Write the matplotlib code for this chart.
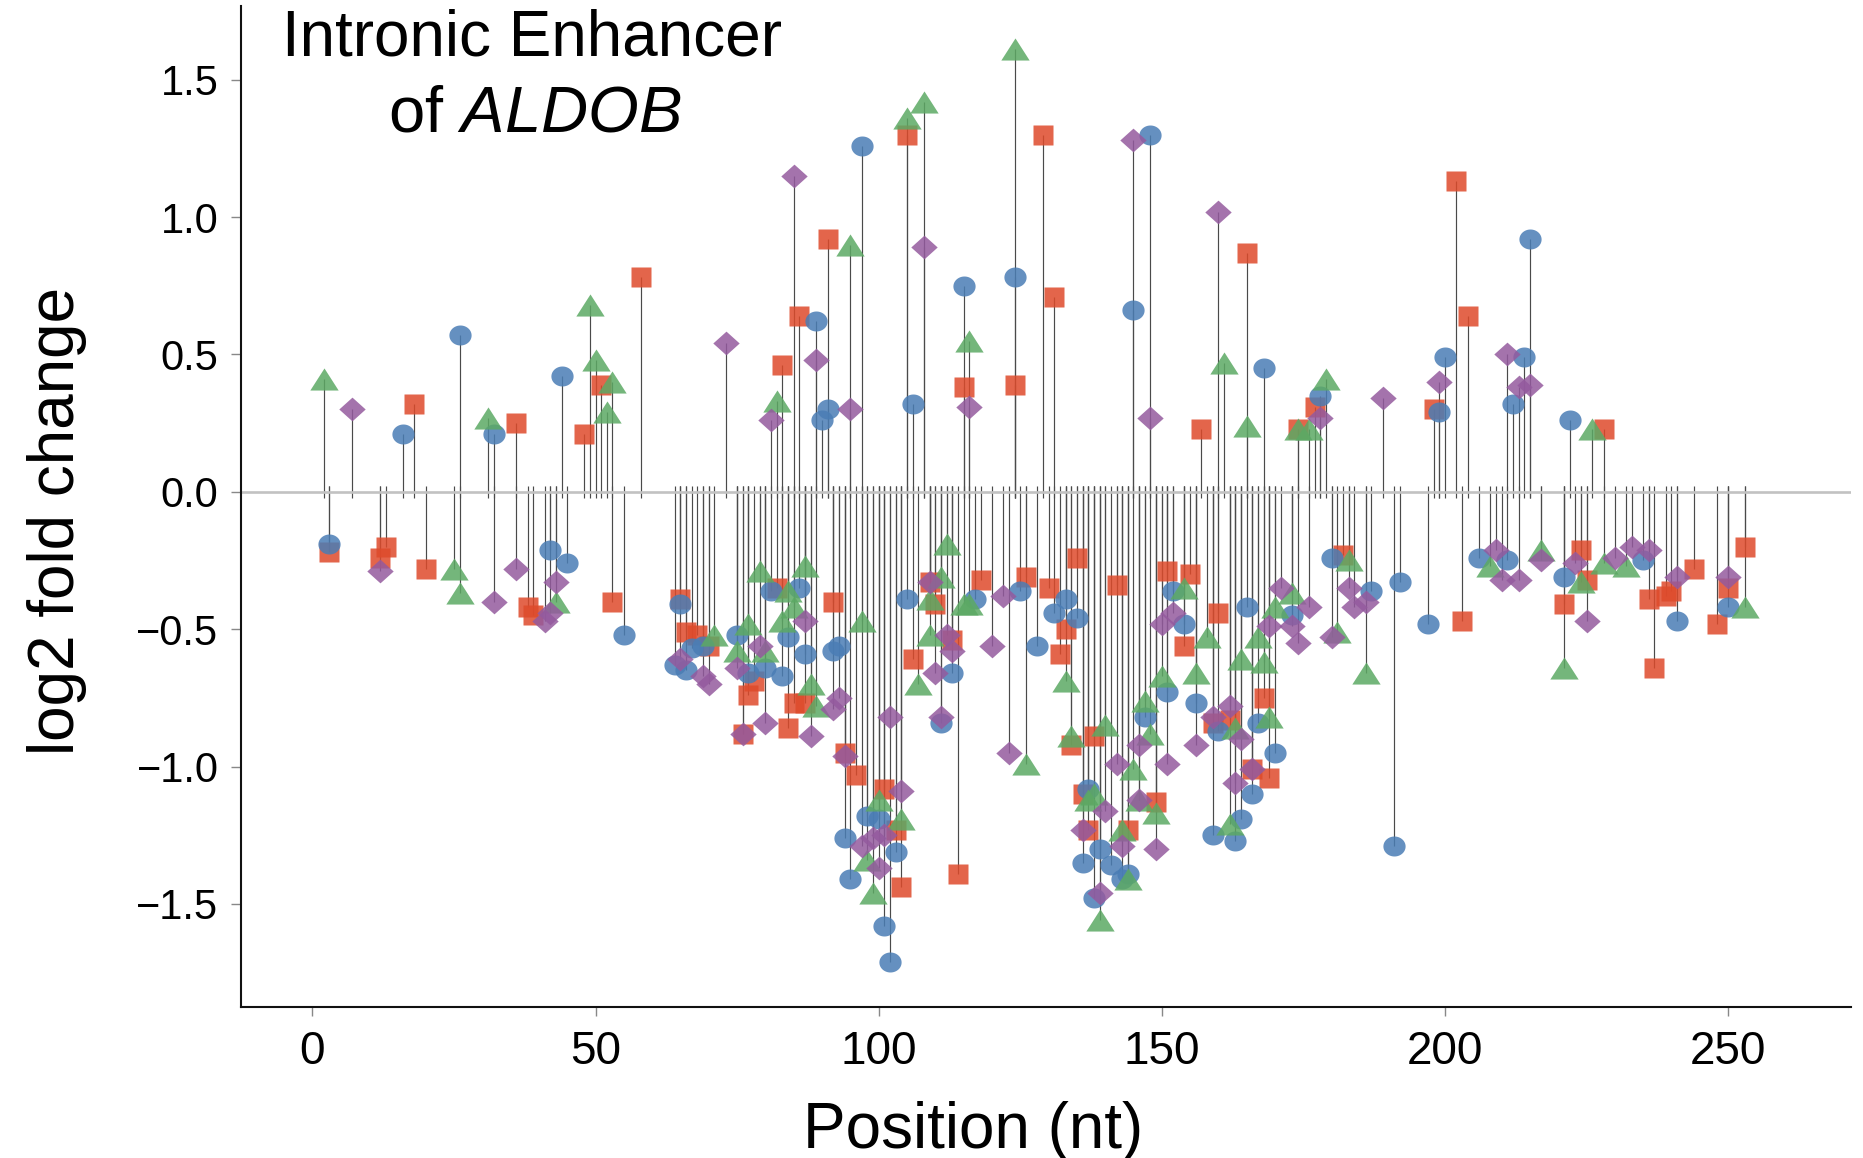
import numpy as np
import matplotlib
matplotlib.use("Agg")
import matplotlib.pyplot as plt

plt.rcParams['font.family'] = ['Liberation Sans', 'DejaVu Sans']
plt.rcParams['mathtext.fontset'] = 'custom'
plt.rcParams['mathtext.rm'] = 'Liberation Sans'
plt.rcParams['mathtext.it'] = 'Liberation Sans:italic'

# ---------------- data (position, log2 fold change) ----------------
circle_x = [16, 26, 32, 44, 89, 90, 91, 97, 106, 115, 124, 145, 148, 168, 178, 199, 200, 212, 214, 215, 222,
            3, 42, 45, 55, 65, 67, 69, 64, 66, 75, 81, 86, 84, 87, 77, 80, 83, 92, 93, 98, 100, 94, 103, 95,
            101, 102, 105, 117, 125, 131, 128, 113, 111, 133, 135, 152, 154, 151, 147, 156, 165, 173, 180, 187,
            192, 197, 191, 167, 160, 170, 166, 164, 159, 163, 137, 139, 136, 141, 144, 143, 138, 206, 211, 221,
            235, 241, 250]
circle_y = [0.21, 0.57, 0.21, 0.42, 0.62, 0.26, 0.30, 1.26, 0.32, 0.75, 0.78, 0.66, 1.30, 0.45, 0.35, 0.29, 0.49,
            0.32, 0.49, 0.92, 0.26,
            -0.19, -0.21, -0.26, -0.52, -0.41, -0.57, -0.56, -0.63, -0.65, -0.52, -0.36, -0.35, -0.53, -0.59,
            -0.66, -0.64, -0.67, -0.58, -0.56, -1.18, -1.19, -1.26, -1.31, -1.41, -1.58, -1.71, -0.39, -0.39,
            -0.36, -0.44, -0.56, -0.66, -0.84, -0.39, -0.46, -0.36, -0.48, -0.73, -0.82, -0.77, -0.42, -0.45,
            -0.24, -0.36, -0.33, -0.48, -1.29, -0.84, -0.87, -0.95, -1.10, -1.19, -1.25, -1.27, -1.08, -1.30,
            -1.35, -1.36, -1.39, -1.41, -1.48, -0.24, -0.25, -0.31, -0.25, -0.47, -0.42]

square_x = [18, 36, 48, 51, 58, 83, 86, 91, 105, 115, 124, 129, 131, 157, 165, 174, 177, 198, 202, 204, 228,
            3, 13, 12, 20, 38, 39, 53, 65, 66, 68, 70, 82, 78, 77, 85, 87, 76, 84, 92, 94, 96, 101, 103, 104,
            114, 109, 110, 118, 126, 130, 106, 113, 135, 133, 132, 134, 138, 142, 151, 155, 154, 160, 136, 137,
            144, 149, 168, 159, 162, 166, 169, 182, 203, 221, 224, 225, 236, 239, 237, 240, 244, 248, 250, 253]
square_y = [0.32, 0.25, 0.21, 0.39, 0.78, 0.46, 0.64, 0.92, 1.30, 0.38, 0.39, 1.30, 0.71, 0.23, 0.87, 0.23, 0.31,
            0.30, 1.13, 0.64, 0.23,
            -0.22, -0.20, -0.24, -0.28, -0.42, -0.45, -0.40, -0.39, -0.51, -0.52, -0.56, -0.35, -0.69, -0.74,
            -0.77, -0.77, -0.88, -0.86, -0.40, -0.95, -1.03, -1.08, -1.23, -1.44, -1.39, -0.33, -0.41, -0.32,
            -0.31, -0.35, -0.61, -0.54, -0.24, -0.50, -0.59, -0.92, -0.89, -0.34, -0.29, -0.30, -0.56, -0.44,
            -1.10, -1.23, -1.23, -1.13, -0.75, -0.84, -0.83, -1.01, -1.04, -0.23, -0.47, -0.41, -0.21, -0.32,
            -0.39, -0.38, -0.64, -0.36, -0.28, -0.48, -0.35, -0.20]

triangle_x = [2, 31, 49, 50, 52, 53, 82, 95, 105, 108, 116, 124, 161, 165, 174, 176, 179, 226,
              25, 26, 43, 71, 77, 79, 84, 87, 85, 83, 75, 80, 88, 89, 97, 100, 104, 98, 99, 112, 111, 109,
              115, 116, 109, 107, 126, 133, 134, 140, 154, 158, 156, 150, 147, 148, 145, 164, 167, 168, 170,
              173, 181, 183, 186, 169, 163, 162, 138, 137, 143, 149, 146, 144, 139, 208, 217, 224, 221, 228,
              232, 253]
triangle_y = [0.41, 0.27, 0.68, 0.48, 0.29, 0.40, 0.33, 0.90, 1.36, 1.42, 0.55, 1.61, 0.47, 0.24, 0.23, 0.23,
              0.41, 0.23,
              -0.28, -0.37, -0.40, -0.52, -0.48, -0.29, -0.36, -0.27, -0.42, -0.47, -0.58, -0.58, -0.70, -0.78,
              -0.47, -1.12, -1.19, -1.34, -1.46, -0.19, -0.31, -0.39, -0.41, -0.41, -0.52, -0.70, -0.99, -0.69,
              -0.89, -0.85, -0.35, -0.53, -0.66, -0.67, -0.76, -0.88, -1.01, -0.61, -0.53, -0.62, -0.42, -0.37,
              -0.51, -0.25, -0.66, -0.82, -0.86, -1.21, -1.10, -1.12, -1.23, -1.17, -1.12, -1.41, -1.56, -0.27,
              -0.21, -0.33, -0.64, -0.26, -0.27, -0.42]

diamond_x = [7, 73, 81, 85, 89, 95, 108, 116, 145, 148, 160, 178, 189, 199, 211, 213, 215,
             12, 32, 36, 41, 42, 43, 65, 69, 70, 87, 75, 79, 80, 76, 88, 92, 93, 94, 104, 97, 99, 101, 100, 102,
             109, 122, 120, 112, 113, 110, 111, 123, 150, 152, 146, 142, 151, 156, 171, 169, 173, 176, 174, 180,
             183, 184, 186, 162, 159, 164, 166, 163, 140, 136, 143, 149, 146, 139, 209, 210, 213, 217, 223, 225,
             230, 233, 236, 241, 250]
diamond_y = [0.30, 0.54, 0.26, 1.15, 0.48, 0.30, 0.89, 0.31, 1.28, 0.27, 1.02, 0.27, 0.34, 0.40, 0.50, 0.38, 0.39,
             -0.29, -0.40, -0.28, -0.47, -0.44, -0.33, -0.61, -0.67, -0.70, -0.47, -0.64, -0.56, -0.84, -0.88,
             -0.89, -0.79, -0.75, -0.96, -1.09, -1.29, -1.26, -1.25, -1.37, -0.82, -0.33, -0.38, -0.56, -0.52,
             -0.58, -0.66, -0.82, -0.95, -0.48, -0.44, -0.92, -0.99, -0.99, -0.92, -0.35, -0.49, -0.49, -0.42,
             -0.55, -0.53, -0.35, -0.42, -0.40, -0.78, -0.82, -0.90, -1.01, -1.06, -1.16, -1.23, -1.29, -1.30,
             -1.12, -1.46, -0.21, -0.32, -0.32, -0.25, -0.26, -0.47, -0.24, -0.20, -0.21, -0.31, -0.31]

x_ticks = [0, 50, 100, 150, 200, 250]
y_ticks = [-1.5, -1.0, -0.5, 0.0, 0.5, 1.0, 1.5]
y_tick_labels = ['\u22121.5', '\u22121.0', '\u22120.5', '0.0', '0.5', '1.0', '1.5']

# ---------------- styles ----------------
t = np.linspace(0, 2 * np.pi, 64)
ellipse_verts = list(zip(np.cos(t), 0.9 * np.sin(t)))
square_verts = [(-1, -0.95), (1, -0.95), (1, 0.95), (-1, 0.95), (-1, -0.95)]
triangle_verts = [(0, 0.78), (-1, -0.78), (1, -0.78), (0, 0.78)]
diamond_verts = [(0, 0.9), (1, 0), (0, -0.9), (-1, 0), (0, 0.9)]

series = [
    (square_x, square_y, square_verts, 14.6, '#de4a2b'),
    (circle_x, circle_y, ellipse_verts, 16.0, '#4a7db5'),
    (triangle_x, triangle_y, triangle_verts, 20.4, '#5ca964'),
    (diamond_x, diamond_y, diamond_verts, 19.0, '#945a9e'),
]

fig = plt.figure(figsize=(18.63, 11.58), dpi=100)
ax = fig.add_axes([241 / 1863, 1 - 1007 / 1158, 1610 / 1863, 1001 / 1158])

# stems
for xs, ys, _, _, _ in series:
    xs = np.asarray(xs, float)
    ys = np.asarray(ys, float)
    base = -0.022 * np.sign(ys)
    ax.vlines(xs, base, ys, colors='#4a4a4a', linewidth=0.85, zorder=1)

ax.axhline(0, color='#c2c2c2', linewidth=1.9, zorder=1.5)

for i, (xs, ys, verts, ms, col) in enumerate(series):
    ax.plot(xs, ys, linestyle='none', marker=verts, markersize=ms,
            markerfacecolor=col, markeredgecolor='none', alpha=0.85, zorder=3 + i)

ax.set_xlim(-12.6, 271.7)
ax.set_ylim(-1.875, 1.768)

for s in ['top', 'right']:
    ax.spines[s].set_visible(False)
for s in ['left', 'bottom']:
    ax.spines[s].set_linewidth(1.5)
    ax.spines[s].set_color('#111111')

ax.set_xticks(x_ticks)
ax.set_xticklabels([str(v) for v in x_ticks])
ax.set_yticks(y_ticks)
ax.set_yticklabels(y_tick_labels)
ax.tick_params(axis='y', length=7.2, width=1.0, color='#888888', labelsize=30, pad=9)
ax.tick_params(axis='x', length=6.5, width=1.0, color='#888888', labelsize=33, pad=10)

ax.set_ylabel('log2 fold change', fontsize=46)
ax.yaxis.set_label_coords(-0.0957, 0.4855)
ax.set_xlabel('Position (nt)', fontsize=46)
ax.xaxis.set_label_coords(0.455, -0.094)
ax.xaxis.label.set_verticalalignment('top')

fig.text(532 / 1863, 1 - 56 / 1158, 'Intronic Enhancer', ha='center', va='baseline', fontsize=46)
fig.text(535 / 1863, 1 - 132 / 1158, r'of $\mathit{ALDOB}$', ha='center', va='baseline', fontsize=47)

fig.savefig('out.png', dpi=100)
